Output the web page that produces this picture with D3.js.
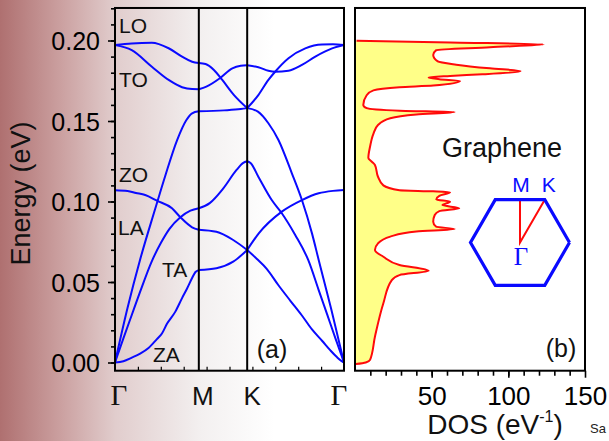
<!DOCTYPE html>
<html>
<head>
<meta charset="utf-8">
<script src="https://cdn.jsdelivr.net/npm/d3@7"></script>
<style>
  body { margin: 0; background: #fff; }
  svg { display: block; font-family: "Liberation Sans", Arial, sans-serif; }
</style>
</head>
<body>
<script>
// path Γ-M-K-Γ, distances in units of |ΓM|
const kPoints = [0, 1, 1.577, 2.732]
const kLabels = ['Γ', 'M', 'K', 'Γ']

// phonon branches, [k, energy (eV)]
const ZA = [[0, 0], [0.1, 0.0008], [0.2, 0.003], [0.3, 0.0055], [0.4, 0.009], [0.5, 0.0145], [0.56, 0.018], [0.62, 0.024], [0.72, 0.0316], [0.8, 0.040], [0.86, 0.046], [0.92, 0.0525], [0.96, 0.0562], [1, 0.0574],
  [1.21, 0.0585], [1.41, 0.0626], [1.577, 0.0699],
  [1.69, 0.0645], [1.81, 0.0582], [1.95, 0.048], [2.09, 0.0385], [2.23, 0.0292], [2.35, 0.0205], [2.47, 0.0135], [2.57, 0.0075], [2.65, 0.0032], [2.70, 0.001], [2.732, 0]]
const TA = [[0, 0], [0.1, 0.015], [0.2, 0.0295], [0.3, 0.044], [0.44, 0.063], [0.55, 0.0745], [0.65, 0.083], [0.78, 0.0902], [0.9, 0.0943], [1, 0.0958],
  [1.13, 0.099], [1.29, 0.108], [1.45, 0.1196], [1.53, 0.1240], [1.577, 0.1250],
  [1.62, 0.1238], [1.71, 0.1154], [1.87, 0.1009], [1.99, 0.0927], [2.15, 0.0792], [2.305, 0.0637], [2.43, 0.045], [2.53, 0.030], [2.63, 0.015], [2.732, 0]]
const LA = [[0, 0], [0.15, 0.034], [0.3, 0.064], [0.477, 0.095], [0.6, 0.116], [0.74, 0.138], [0.85, 0.1505], [0.92, 0.1548], [1, 0.156],
  [1.3, 0.1566], [1.5, 0.1574], [1.577, 0.158],
  [1.705, 0.1558], [1.83, 0.1486], [1.95, 0.1382], [2.11, 0.1175], [2.23, 0.1009], [2.35, 0.0802], [2.43, 0.0637], [2.58, 0.033], [2.732, 0]]
const ZO = [[0, 0.107], [0.15, 0.1065], [0.25, 0.1053], [0.36, 0.104], [0.5, 0.1005], [0.68, 0.0958], [0.78, 0.0902], [0.92, 0.084], [1, 0.0825],
  [1.21, 0.0812], [1.41, 0.0761], [1.577, 0.0699],
  [1.715, 0.0802], [1.99, 0.0937], [2.23, 0.1009], [2.43, 0.1051], [2.6, 0.1066], [2.732, 0.1071]]
const TO = [[0, 0.1972], [0.2, 0.194], [0.44, 0.1837], [0.64, 0.1755], [0.8, 0.171], [0.92, 0.1698], [1, 0.1697],
  [1.09, 0.1713], [1.25, 0.1765], [1.4, 0.1827], [1.5, 0.1843], [1.577, 0.1846],
  [1.71, 0.1834], [1.83, 0.1812], [1.91, 0.1806], [2.07, 0.1812], [2.23, 0.1848], [2.39, 0.19], [2.59, 0.1951], [2.732, 0.1972]]
const LO = [[0, 0.1972], [0.2, 0.1982], [0.44, 0.1986], [0.64, 0.1952], [0.8, 0.190], [0.92, 0.1868], [1, 0.186],
  [1.08, 0.1854], [1.18, 0.1817], [1.28, 0.1755], [1.42, 0.1661], [1.577, 0.158],
  [1.71, 0.1661], [1.83, 0.1755], [1.91, 0.1806], [2.07, 0.189], [2.27, 0.1951], [2.47, 0.1975], [2.6, 0.1976], [2.732, 0.1972]]
const branches = [ZA, TA, LA, ZO, TO, LO]
const branchNames = ['ZA', 'TA', 'LA', 'ZO', 'TO', 'LO']

// phonon density of states
const dosEnergy = [-0.001, 0.0, 0.0016, 0.016, 0.0368, 0.0512, 0.0543, 0.057, 0.0606, 0.0657, 0.0699, 0.074, 0.0782, 0.0813, 0.0829, 0.0843, 0.0875, 0.0916, 0.094, 0.0958, 0.0978, 0.0999, 0.1013, 0.1035, 0.1057, 0.1063, 0.107, 0.11, 0.1154, 0.1227, 0.1247, 0.127, 0.134, 0.142, 0.1475, 0.1517, 0.154, 0.1556, 0.1564, 0.158, 0.16, 0.166, 0.169, 0.171, 0.172, 0.1748, 0.176, 0.177, 0.178, 0.179, 0.181, 0.1827, 0.185, 0.187, 0.191, 0.194, 0.1958, 0.1976, 0.1988, 0.1999]
const dosValue = [0.5, 7, 9.8, 13, 18.5, 24, 29, 48, 29, 18.5, 13, 15, 23, 40, 65, 53, 51, 52, 55, 68, 57, 62, 53, 55, 62, 51, 29, 18.5, 15, 13, 11, 8.7, 9.8, 12, 15, 23, 40, 65, 29, 7.6, 5.4, 7.6, 12, 29, 51, 68.5, 55, 48, 62, 83, 108, 88, 66, 54, 51, 53, 88, 123, 62, 1]

const energyTicks = [0, 0.05, 0.10, 0.15, 0.20]
const dosTicks = [50, 100, 150]

const W = 609
const H = 441
const svg = d3.select('body').append('svg').attr('width', W).attr('height', H)

// background fade
const grad = svg.append('defs').append('linearGradient')
  .attr('id', 'bg').attr('gradientUnits', 'userSpaceOnUse')
  .attr('x1', 0).attr('x2', W).attr('y1', 0).attr('y2', 0)
grad.selectAll('stop')
  .data([[0, 'rgb(175,112,112)'], [0.1, 'rgb(203,160,160)'], [0.19, 'rgb(225,205,205)'], [0.33, 'rgb(243,240,240)'], [0.45, '#ffffff']])
  .enter().append('stop')
  .attr('offset', d => d[0]).attr('stop-color', d => d[1])
svg.append('rect').attr('width', W).attr('height', H).attr('fill', 'url(#bg)')

// scales
const yE = d3.scaleLinear().domain([0, 0.2]).range([362.5, 40.5])
const eMin = -0.0051
const eMax = 0.2202
const kx = d3.scaleLinear().domain([0, kPoints[3]]).range([115, 344])
const dosX = d3.scaleLinear().domain([0, 150]).range([355, 585])

const defs = svg.select('defs')
defs.append('clipPath').attr('id', 'clipA').append('rect')
  .attr('x', kx(0)).attr('y', yE(eMax)).attr('width', kx(kPoints[3]) - kx(0)).attr('height', yE(eMin) - yE(eMax))
defs.append('clipPath').attr('id', 'clipB').append('rect')
  .attr('x', dosX(0)).attr('y', yE(eMax)).attr('width', dosX(150) - dosX(0)).attr('height', yE(eMin) - yE(eMax))

// ---- panel (a): dispersion ----
const line = d3.line().x(d => kx(d[0])).y(d => yE(d[1])).curve(d3.curveMonotoneX)
const gA = svg.append('g').attr('clip-path', 'url(#clipA)')
branches.forEach(b => {
  for (let s = 0; s < 3; s++) {
    const seg = b.filter(p => p[0] >= kPoints[s] - 1e-9 && p[0] <= kPoints[s + 1] + 1e-9)
    gA.append('path').datum(seg).attr('d', line)
      .attr('fill', 'none').attr('stroke', '#0a0aff').attr('stroke-width', 2)
  }
})

// high symmetry lines
svg.selectAll('.sym').data(kPoints.slice(1, 3)).enter().append('line')
  .attr('x1', d => kx(d)).attr('x2', d => kx(d))
  .attr('y1', yE(eMax)).attr('y2', yE(eMin))
  .attr('stroke', '#000').attr('stroke-width', 2)

// inner bottom ticks
svg.append('g').attr('transform', `translate(0,${yE(eMin)})`)
  .call(d3.axisBottom(kx).tickValues(d3.range(1, 10).map(i => i * kPoints[3] / 10)).tickSize(-4).tickFormat(''))
  .call(g => g.select('.domain').remove())
  .selectAll('line').attr('stroke-width', 1.2)

// y axis
const yAxisG = svg.append('g').attr('transform', `translate(${kx(0)},0)`).attr('color', '#000')
yAxisG.call(d3.axisLeft(yE).tickValues(energyTicks).tickSize(7).tickPadding(8).tickFormat(d3.format('.2f')))
  .call(g => g.select('.domain').remove())
yAxisG.selectAll('line').attr('stroke-width', 1.6)
yAxisG.selectAll('text').style('font-size', '25px').attr('dy', '0.36em')
svg.append('g').attr('transform', `translate(${kx(0)},0)`)
  .call(d3.axisLeft(yE).tickValues(d3.range(0, 0.2205, 0.01)).tickSize(4).tickFormat(''))
  .call(g => g.select('.domain').remove())
  .selectAll('line').attr('stroke-width', 1.6)

svg.append('text')
  .attr('transform', `translate(30,${yE(0.105)}) rotate(-90)`)
  .attr('text-anchor', 'middle').style('font-size', '27px').attr('fill', '#111')
  .text('Energy (eV)')

// k labels
const kNudge = [4, 4, 5, -5]
svg.selectAll('.klab').data(kLabels).enter().append('text')
  .attr('x', (d, i) => kx(kPoints[i]) + kNudge[i]).attr('y', 405)
  .attr('text-anchor', 'middle')
  .style('font-family', d => d === 'Γ' ? '"Liberation Serif", "Times New Roman", serif' : null)
  .style('font-size', d => d === 'Γ' ? '29px' : '26px')
  .attr('fill', '#111')
  .text(d => d)

// branch names
const branchLabelAt = { ZA: [153, 362], TA: [162, 277], LA: [118, 235], ZO: [119, 182], TO: [119, 87], LO: [119, 33] }
svg.selectAll('.blab').data(branchNames).enter().append('text')
  .attr('x', d => branchLabelAt[d][0]).attr('y', d => branchLabelAt[d][1])
  .style('font-size', '21px').attr('fill', '#111')
  .text(d => d)

svg.append('text').attr('x', 272).attr('y', 358).attr('text-anchor', 'middle')
  .style('font-size', '25px').attr('fill', '#111').text('(a)')

svg.append('rect')
  .attr('x', kx(0)).attr('y', yE(eMax)).attr('width', kx(kPoints[3]) - kx(0)).attr('height', yE(eMin) - yE(eMax))
  .attr('fill', 'none').attr('stroke', '#000').attr('stroke-width', 2)

// ---- panel (b): DOS ----
const dos = dosEnergy.map((e, i) => [e, dosValue[i]])
svg.append('rect')
  .attr('x', dosX(0)).attr('y', yE(eMax)).attr('width', dosX(150) - dosX(0)).attr('height', yE(eMin) - yE(eMax))
  .attr('fill', '#fff')
const gB = svg.append('g').attr('clip-path', 'url(#clipB)')
gB.append('path').datum(dos)
  .attr('d', d3.area().y(d => yE(d[0])).x0(dosX(0)).x1(d => dosX(d[1])).curve(d3.curveMonotoneY))
  .attr('fill', '#ffff88')
gB.append('path').datum(dos)
  .attr('d', d3.line().y(d => yE(d[0])).x(d => dosX(d[1])).curve(d3.curveMonotoneY))
  .attr('fill', 'none').attr('stroke', '#ff0a0a').attr('stroke-width', 2)

const xAxisG = svg.append('g').attr('transform', `translate(0,${yE(eMin)})`).attr('color', '#000')
xAxisG.call(d3.axisBottom(dosX).tickValues(dosTicks).tickSize(7).tickPadding(9))
  .call(g => g.select('.domain').remove())
xAxisG.selectAll('line').attr('stroke-width', 1.6)
xAxisG.selectAll('text').style('font-size', '26px')
svg.append('g').attr('transform', `translate(0,${yE(eMin)})`)
  .call(d3.axisBottom(dosX).tickValues(d3.range(10, 150, 10)).tickSize(5).tickFormat(''))
  .call(g => g.select('.domain').remove())
  .selectAll('line').attr('stroke-width', 1.6)

const dosTitle = svg.append('text').attr('x', 495).attr('y', 434).attr('text-anchor', 'middle')
  .style('font-size', '28px').attr('fill', '#111')
dosTitle.append('tspan').text('DOS (eV')
dosTitle.append('tspan').attr('dy', -12).style('font-size', '16px').text('-1')
dosTitle.append('tspan').attr('dy', 12).text(')')

svg.append('text').attr('x', 442).attr('y', 157).style('font-size', '27px').attr('fill', '#111').text('Graphene')
svg.append('text').attr('x', 561).attr('y', 357).attr('text-anchor', 'middle')
  .style('font-size', '25px').attr('fill', '#111').text('(b)')

// Brillouin zone inset
const hx = d3.scaleLinear().domain([-1, 1]).range([470.5, 569.5])
const hy = d3.scaleLinear().domain([-1, 1]).range([292, 193])
const hexagon = d3.range(7).map(i => [Math.cos(i * Math.PI / 3), Math.sin(i * Math.PI / 3)])
const bzGamma = [0, 0]
const bzM = [0, Math.sqrt(3) / 2]
const bzK = [0.5, Math.sqrt(3) / 2]
const hline = d3.line().x(d => hx(d[0])).y(d => hy(d[1]))
svg.append('path').datum([bzM, bzGamma, bzK]).attr('d', hline)
  .attr('fill', 'none').attr('stroke', '#ff0a0a').attr('stroke-width', 2)
svg.append('path').datum(hexagon).attr('d', hline)
  .attr('fill', 'none').attr('stroke', '#0a0aff').attr('stroke-width', 3.2).attr('stroke-linejoin', 'miter')
svg.append('text').attr('x', hx(bzM[0]) + 1).attr('y', 192).attr('text-anchor', 'middle')
  .style('font-size', '21px').attr('fill', '#0a0aff').text('M')
svg.append('text').attr('x', hx(bzK[0]) + 4).attr('y', 192).attr('text-anchor', 'middle')
  .style('font-size', '21px').attr('fill', '#0a0aff').text('K')
svg.append('text').attr('x', hx(bzGamma[0]) + 1).attr('y', 265).attr('text-anchor', 'middle')
  .style('font-family', '"Liberation Serif", "Times New Roman", serif')
  .style('font-size', '25px').attr('fill', '#0a0aff').text('Γ')

svg.append('rect')
  .attr('x', dosX(0)).attr('y', yE(eMax)).attr('width', dosX(150) - dosX(0)).attr('height', yE(eMin) - yE(eMax))
  .attr('fill', 'none').attr('stroke', '#000').attr('stroke-width', 2)

svg.append('text').attr('x', 590).attr('y', 433).style('font-size', '13px').attr('fill', '#222').text('Sa')
</script>
</body>
</html>
